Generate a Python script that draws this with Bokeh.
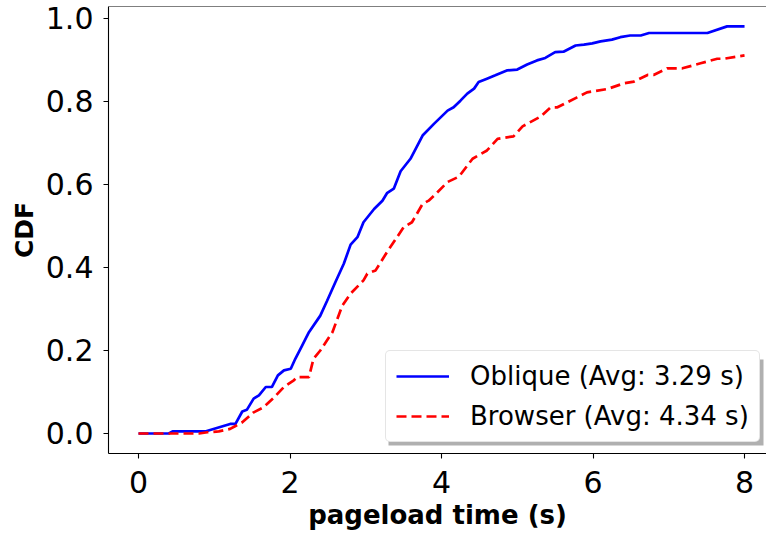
from bokeh.plotting import figure
from bokeh.models import (Range1d, FixedTicker, Legend, LegendItem, BoxAnnotation,
                          Span, Title, ColumnDataSource)
from bokeh.embed import file_html
from bokeh.resources import INLINE

# ---- data ----
oblique_x = [0, 0.4, 0.45, 0.88, 1.21, 1.28, 1.37, 1.43, 1.52, 1.59, 1.68, 1.76, 1.84, 1.92,
             2.01, 2.07, 2.16, 2.25, 2.40, 2.49, 2.60, 2.71, 2.80, 2.89, 2.97, 3.11, 3.22,
             3.28, 3.37, 3.46, 3.59, 3.75, 3.90, 4.08, 4.16, 4.25, 4.34, 4.43, 4.49, 4.60,
             4.71, 4.87, 5.00, 5.13, 5.26, 5.37, 5.50, 5.61, 5.77, 5.88, 5.99, 6.10, 6.25,
             6.36, 6.49, 6.63, 6.74, 7.51, 7.77, 8.0]
oblique_y = [0, 0, 0.005, 0.005, 0.023, 0.023, 0.053, 0.057, 0.084, 0.092, 0.112, 0.112, 0.140,
             0.152, 0.156, 0.180, 0.212, 0.244, 0.284, 0.320, 0.365, 0.409, 0.455, 0.473,
             0.509, 0.541, 0.561, 0.579, 0.590, 0.632, 0.662, 0.718, 0.746, 0.778, 0.786,
             0.802, 0.819, 0.831, 0.847, 0.855, 0.863, 0.875, 0.877, 0.889, 0.899, 0.905,
             0.919, 0.920, 0.935, 0.937, 0.940, 0.945, 0.949, 0.955, 0.959, 0.959, 0.965,
             0.965, 0.981, 0.981]

browser_x = [0, 0.8, 0.91, 1.06, 1.21, 1.28, 1.37, 1.52, 1.65, 1.79, 1.92, 2.05, 2.09, 2.25,
             2.31, 2.40, 2.56, 2.69, 2.80, 2.97, 3.02, 3.13, 3.28, 3.50, 3.61, 3.75, 3.83,
             3.90, 4.08, 4.23, 4.41, 4.60, 4.74, 4.95, 5.07, 5.31, 5.44, 5.53, 5.79, 5.92,
             6.19, 6.41, 6.54, 6.72, 6.80, 6.98, 7.18, 7.42, 7.64, 7.73, 8.0]
browser_y = [0, 0, 0.003, 0.005, 0.011, 0.018, 0.027, 0.051, 0.063, 0.087, 0.112, 0.128, 0.136,
             0.136, 0.180, 0.200, 0.244, 0.308, 0.337, 0.369, 0.385, 0.393, 0.437, 0.497,
             0.509, 0.553, 0.561, 0.573, 0.606, 0.619, 0.662, 0.682, 0.710, 0.716, 0.740,
             0.764, 0.786, 0.786, 0.810, 0.822, 0.830, 0.844, 0.848, 0.864, 0.864, 0.880,
             0.880, 0.892, 0.903, 0.903, 0.911]

labels = ["Oblique (Avg: 3.29 s)", "Browser (Avg: 4.34 s)"]
x_ticks = [0, 2, 4, 6, 8]
y_ticks = [0.0, 0.2, 0.4, 0.6, 0.8, 1.0]

FONT = "DejaVu Sans"
x_start, x_end = -0.396, 8.29
y_start, y_end = -0.0482, 1.0289

p = figure(width=766, height=533, output_backend="svg", toolbar_location=None,
           x_range=Range1d(x_start, x_end), y_range=Range1d(y_start, y_end),
           min_border_left=108, min_border_right=0, min_border_top=6, min_border_bottom=80)
p.grid.visible = False
p.outline_line_color = None
p.background_fill_color = "white"
p.border_fill_color = "white"

r1 = p.line(x="x", y="y", source=ColumnDataSource(dict(x=oblique_x, y=oblique_y)),
            line_color="#0000ff", line_width=2.7)
r2 = p.line(x="x", y="y", source=ColumnDataSource(dict(x=browser_x, y=browser_y)),
            line_color="#ff0000", line_width=2.7, line_dash="10 5")

for ax in (p.xaxis[0], p.yaxis[0]):
    ax.axis_line_color = "black"
    ax.axis_line_width = 1.1
    ax.major_tick_line_color = "black"
    ax.major_tick_line_width = 1.1
    ax.major_tick_in = 0
    ax.major_tick_out = 5
    ax.minor_tick_line_color = None
    ax.major_label_text_font = FONT
    ax.major_label_text_font_size = "30px"
    ax.major_label_text_color = "black"

p.xaxis.ticker = FixedTicker(ticks=x_ticks)
p.xaxis.major_label_overrides = {t: str(t) for t in x_ticks}
p.xaxis.major_label_standoff = 12
p.yaxis.ticker = FixedTicker(ticks=y_ticks)
p.yaxis.major_label_overrides = {t: f"{t:.1f}" for t in y_ticks}
p.yaxis.major_label_standoff = 10
p.yaxis.axis_label = "CDF"
p.yaxis.axis_label_text_font = FONT
p.yaxis.axis_label_text_font_size = "25px"
p.yaxis.axis_label_text_font_style = "bold"
p.yaxis.axis_label_text_color = "black"
p.yaxis.axis_label_standoff = 4

p.add_layout(Title(text="pageload time (s)", align="center", offset=4, text_font=FONT,
                   text_font_size="26px", text_font_style="bold", text_color="black",
                   standoff=5), "below")

# top spine
p.add_layout(Span(location=y_end, dimension="width", line_color="black", line_width=1.1))

# legend shadow + legend
shadow = BoxAnnotation(left=388, right=763, top=359, bottom=445,
                       left_units="canvas", right_units="canvas",
                       top_units="canvas", bottom_units="canvas",
                       fill_color="#b0b0b0", fill_alpha=1.0, line_color=None)
p.add_layout(shadow)

legend = Legend(items=[LegendItem(label=labels[0], renderers=[r1]),
                       LegendItem(label=labels[1], renderers=[r2])],
                location=(277, 11), orientation="vertical",
                label_text_font=FONT, label_text_font_size="26px", label_text_color="black",
                glyph_width=53, glyph_height=28, label_height=28, label_standoff=21,
                spacing=10, padding=10, margin=0,
                border_line_color="#cccccc", border_line_width=1.2,
                background_fill_color="white", background_fill_alpha=1.0)
if "border_radius" in Legend.properties():
    legend.border_radius = 5
p.add_layout(legend)

open("out.html", "w").write(file_html(p, INLINE))
